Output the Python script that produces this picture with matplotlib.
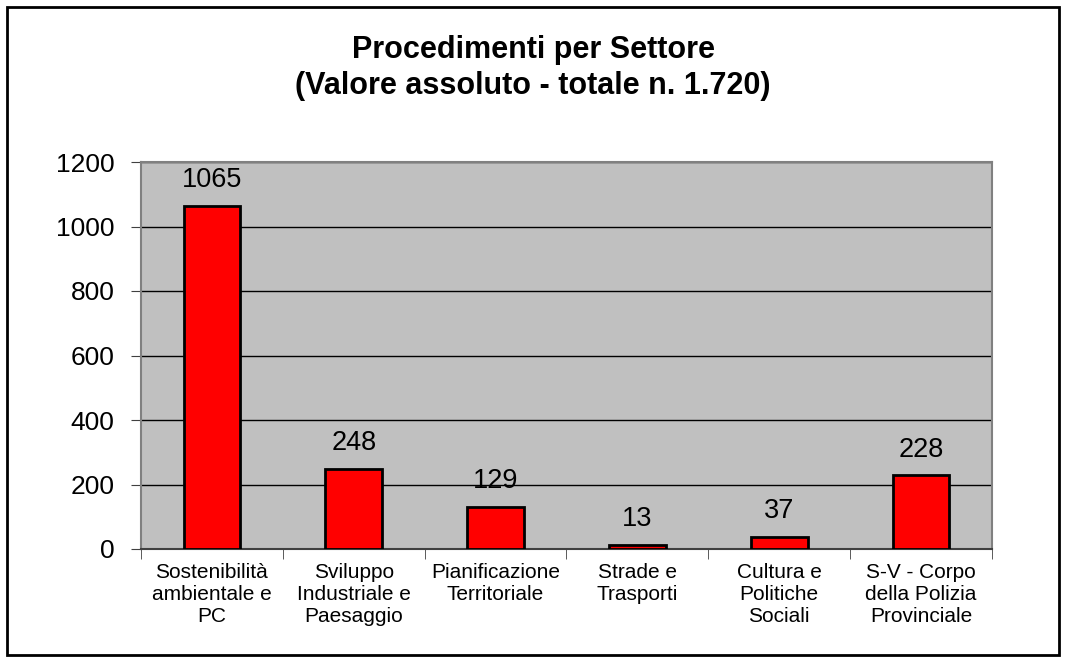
import matplotlib.pyplot as plt
from matplotlib.patches import Rectangle

plt.rcParams['font.family'] = ['Liberation Sans', 'DejaVu Sans']

# Data
categories = [
    'Sostenibilità\nambientale e\nPC',
    'Sviluppo\nIndustriale e\nPaesaggio',
    'Pianificazione\nTerritoriale',
    'Strade e\nTrasporti',
    'Cultura e\nPolitiche\nSociali',
    'S-V - Corpo\ndella Polizia\nProvinciale',
]
values = [1065, 248, 129, 13, 37, 228]
yticks = [0, 200, 400, 600, 800, 1000, 1200]

fig = plt.figure(figsize=(10.66, 6.62), dpi=100)
ax = fig.add_axes([141 / 1066, 1 - 549 / 662, (992 - 141) / 1066, (549 - 162) / 662])

# Outer border around the whole chart
fig.patches.append(Rectangle((7 / 1066, 7 / 662), 1 - 14 / 1066, 1 - 14 / 662,
                             transform=fig.transFigure, fill=False,
                             edgecolor='black', linewidth=2))

ax.set_facecolor('#C0C0C0')
x = range(len(categories))
bars = ax.bar(x, values, width=0.4, color='#FF0000', edgecolor='black', linewidth=2, zorder=3)

ax.set_xlim(-0.5, len(categories) - 0.5)
ax.set_ylim(0, 1200)
ax.set_yticks(yticks)
ax.set_yticklabels([str(t) for t in yticks], fontsize=19)
ax.yaxis.grid(True, color='black', linewidth=1)
ax.set_axisbelow(True)

ax.set_xticks(list(x))
ax.set_xticklabels(categories, fontsize=15, linespacing=1.22)
ax.tick_params(axis='x', length=0, pad=10)
# minor ticks at category borders
ax.set_xticks([i - 0.5 for i in range(len(categories) + 1)], minor=True)
ax.tick_params(axis='x', which='minor', length=7, color='#404040')
ax.tick_params(axis='y', length=7, color='#404040', pad=12)

for side in ['left', 'right', 'top']:
    ax.spines[side].set_color('#808080')
    ax.spines[side].set_linewidth(1.5)
ax.spines['bottom'].set_color('#404040')
ax.spines['bottom'].set_linewidth(1.5)

for b, v in zip(bars, values):
    ax.text(b.get_x() + b.get_width() / 2, v + 40, str(v), ha='center', va='bottom',
            fontsize=19.5)

fig.text(0.5, 1 - 50 / 662, 'Procedimenti per Settore', ha='center', va='center',
         fontsize=22, fontweight='bold')
fig.text(0.5, 1 - 86 / 662, '(Valore assoluto - totale n. 1.720)', ha='center', va='center',
         fontsize=22, fontweight='bold')

fig.savefig('out.png', dpi=100)
